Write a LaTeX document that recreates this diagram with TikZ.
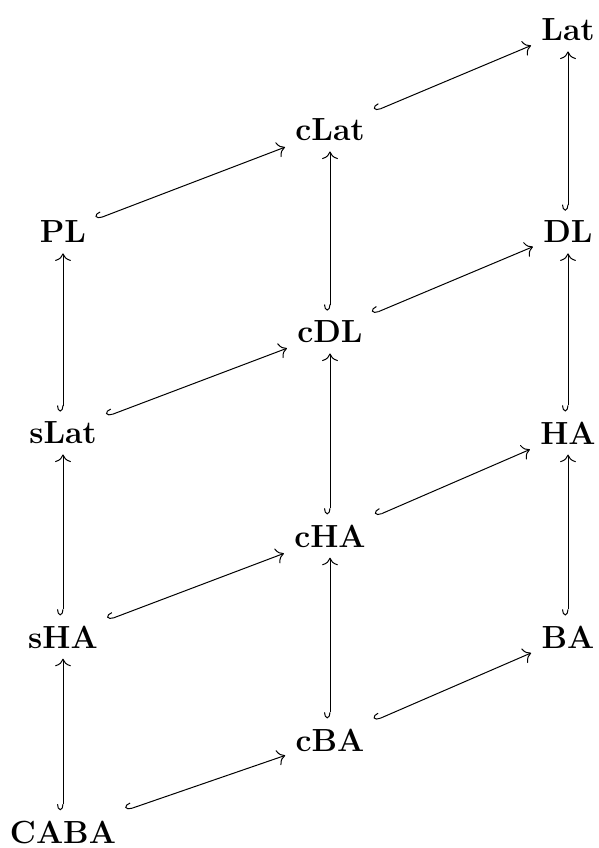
\documentclass[tikz,border=0pt]{standalone}
\usetikzlibrary{arrows.meta}
\begin{document}
\begin{tikzpicture}[x=0.5pt,y=-0.5pt,
  obj/.style={font=\fontsize{16}{19}\selectfont\bfseries, inner sep=5pt},
  inc/.style={line width=0.5pt,
    {Hooks[right,length=3pt,width=6pt]}-{Computer Modern Rightarrow[scale=1.4]}}]
\useasboundingbox (0,0) rectangle (599,848);
\node[obj] (Lat) at (568,30) {Lat};
\node[obj] (cLat) at (330,130) {cLat};
\node[obj] (PL) at (63,232) {PL};
\node[obj] (DL) at (568,232) {DL};
\node[obj] (cDL) at (330,332) {cDL};
\node[obj] (sLat) at (63,433) {sLat};
\node[obj] (HA) at (568,433) {HA};
\node[obj] (cHA) at (330,536) {cHA};
\node[obj] (sHA) at (63,637) {sHA};
\node[obj] (BA) at (568,637) {BA};
\node[obj] (cBA) at (330,740) {cBA};
\node[obj] (CABA) at (63,832) {CABA};
\draw[inc] (CABA) -- (sHA);
\draw[inc] (sHA) -- (sLat);
\draw[inc] (sLat) -- (PL);
\draw[inc] (cBA) -- (cHA);
\draw[inc] (cHA) -- (cDL);
\draw[inc] (cDL) -- (cLat);
\draw[inc] (BA) -- (HA);
\draw[inc] (HA) -- (DL);
\draw[inc] (DL) -- (Lat);
\draw[inc] (CABA) -- (cBA);
\draw[inc] (sHA) -- (cHA);
\draw[inc] (sLat) -- (cDL);
\draw[inc] (PL) -- (cLat);
\draw[inc] (cBA) -- (BA);
\draw[inc] (cHA) -- (HA);
\draw[inc] (cDL) -- (DL);
\draw[inc] (cLat) -- (Lat);
\end{tikzpicture}
\end{document}
